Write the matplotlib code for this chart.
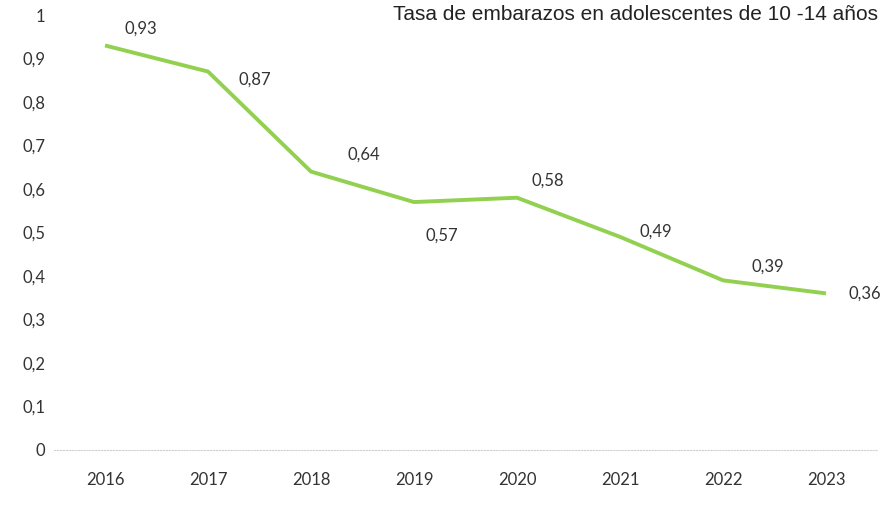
import matplotlib
matplotlib.use('Agg')
import matplotlib.pyplot as plt

# data
years = ['2016', '2017', '2018', '2019', '2020', '2021', '2022', '2023']
rates = [0.93, 0.87, 0.64, 0.57, 0.58, 0.49, 0.39, 0.36]
label_offsets = [(26, 12), (34, -6), (38, 12), (20, -24), (22, 12), (26, 4), (32, 10), (28, 0)]
yticks = [0, 0.1, 0.2, 0.3, 0.4, 0.5, 0.6, 0.7, 0.8, 0.9, 1]

plt.rcParams['font.family'] = ['Lato', 'DejaVu Sans']

fig = plt.figure(figsize=(8.84, 5.15), dpi=100)
ax = fig.add_axes([53.5 / 884, 1 - 450 / 515, 824 / 884, 435 / 515])

x = list(range(len(years)))
ax.plot(x, rates, color='#92d050', lw=2.8, solid_capstyle='butt')

for xi, v, off in zip(x, rates, label_offsets):
    ax.annotate(f'{v:.2f}'.replace('.', ','), (xi, v), xytext=off,
                textcoords='offset points', ha='center', va='center',
                fontsize=12, color='#333333')

ax.set_xlim(-0.5, len(years) - 0.5)
ax.set_ylim(0, 1)
ax.set_xticks(x)
ax.set_xticklabels(years, fontsize=12, color='#333333')
ax.set_yticks(yticks)
ax.set_yticklabels([f'{t:g}'.replace('.', ',') for t in yticks], fontsize=12, color='#333333')
ax.tick_params(length=0, pad=16)
ax.tick_params(axis='y', pad=6)

for s in ['top', 'right', 'left']:
    ax.spines[s].set_visible(False)
ax.spines['bottom'].set_color('#d0d0d0')
ax.spines['bottom'].set_linestyle(':')

fig.text(0.993, 0.972, 'Tasa de embarazos en adolescentes de 10 -14 años',
         ha='right', va='center', fontsize=15, color='#222222',
         family=['Liberation Sans', 'DejaVu Sans'])

fig.savefig('out.png', dpi=100)
